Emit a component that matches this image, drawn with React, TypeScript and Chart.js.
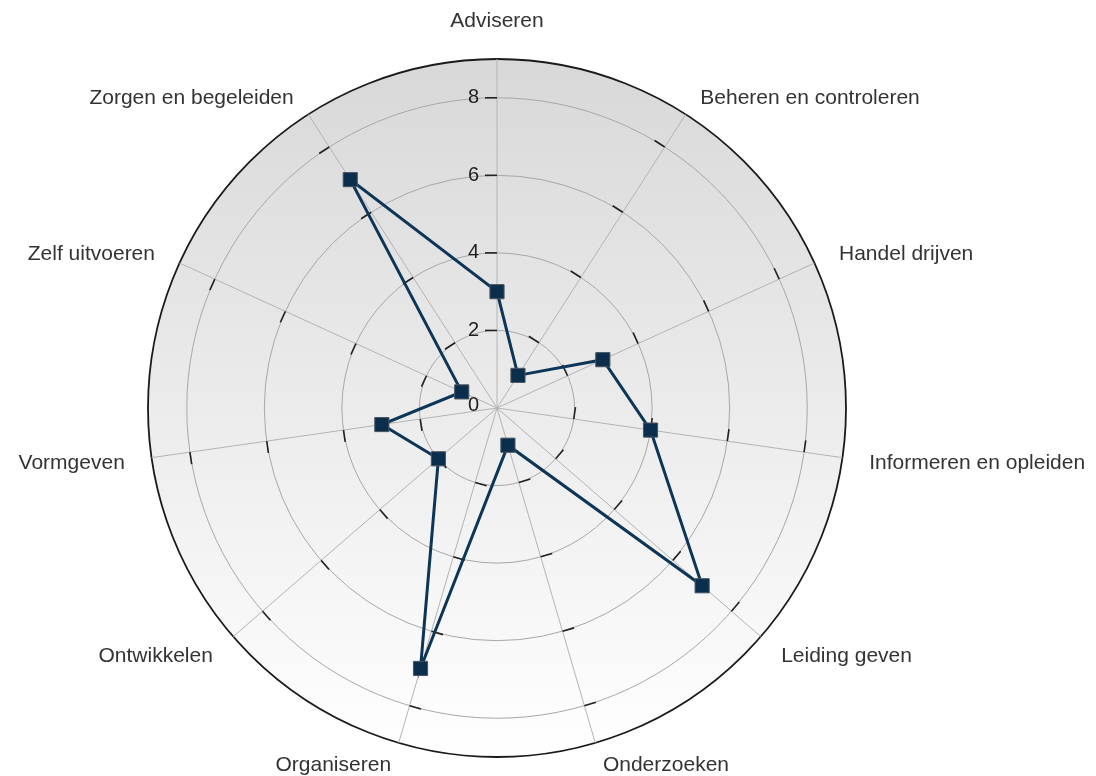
import React, { useEffect, useRef } from "react";
import { Chart, registerables } from "chart.js";

Chart.register(...registerables);

const categories = [
  "Adviseren",
  "Beheren en controleren",
  "Handel drijven",
  "Informeren en opleiden",
  "Leiding geven",
  "Onderzoeken",
  "Organiseren",
  "Ontwikkelen",
  "Vormgeven",
  "Zelf uitvoeren",
  "Zorgen en begeleiden",
];
const scores = [3, 1, 3, 4, 7, 1, 7, 2, 3, 1, 7];
const tickValues = [0, 2, 4, 6, 8];
const axisMax = 9;

const FONT = '"Liberation Sans", Arial, sans-serif';

const decorPlugin = {
  id: "decor",
  beforeDraw(chart: any) {
    const s = chart.scales.r;
    const ctx = chart.ctx;
    const R = s.drawingArea;
    ctx.save();
    const g = ctx.createLinearGradient(0, s.yCenter - R, 0, s.yCenter + R);
    g.addColorStop(0, "#d8d8d8");
    g.addColorStop(1, "#ffffff");
    ctx.beginPath();
    ctx.arc(s.xCenter, s.yCenter, R, 0, Math.PI * 2);
    ctx.fillStyle = g;
    ctx.fill();
    ctx.restore();
  },
  beforeDatasetsDraw(chart: any) {
    const s = chart.scales.r;
    const ctx = chart.ctx;
    const R = s.drawingArea;
    ctx.save();
    // small tick marks on every spoke
    ctx.strokeStyle = "#222";
    ctx.lineWidth = 1.6;
    for (let i = 0; i < categories.length; i++) {
      const a = s.getIndexAngle(i);
      for (const v of tickValues) {
        if (v === 0) continue;
        const p = s.getPointPosition(i, s.getDistanceFromCenterForValue(v));
        ctx.beginPath();
        ctx.moveTo(p.x, p.y);
        ctx.lineTo(p.x - 12 * Math.cos(a), p.y - 12 * Math.sin(a));
        ctx.stroke();
      }
    }
    // tick labels along the top spoke
    ctx.fillStyle = "#1e1e1e";
    ctx.font = `20px ${FONT}`;
    ctx.textAlign = "right";
    ctx.textBaseline = "middle";
    for (const v of tickValues) {
      const p = s.getPointPosition(0, s.getDistanceFromCenterForValue(v));
      ctx.fillText(String(v), p.x - 18, p.y - (v === 0 ? 3 : 0));
    }
    // category labels
    ctx.fillStyle = "#333";
    ctx.font = `21px ${FONT}`;
    for (let i = 0; i < categories.length; i++) {
      const rad = s.getIndexAngle(i);
      const a = (rad * 180) / Math.PI;
      const p = s.getPointPosition(i, R + 27);
      let align: CanvasTextAlign = "center";
      if (a > 1 && a < 179) align = "left";
      else if (a > 181 && a < 359) align = "right";
      ctx.textAlign = align;
      let y = p.y;
      const c = Math.cos(rad);
      if (a < 1 || a > 359) {
        ctx.textBaseline = "bottom";
      } else {
        ctx.textBaseline = "middle";
        if (c > 0.7) y += 7;
        else if (c < -0.9) y -= 4;
        else y += 2;
      }
      ctx.fillText(categories[i], p.x, y);
    }
    ctx.restore();
  },
};

export default function App() {
  const ref = useRef<HTMLCanvasElement | null>(null);
  useEffect(() => {
    if (!ref.current) return;
    const chart = new Chart(ref.current, {
      type: "radar",
      data: {
        labels: categories,
        datasets: [
          {
            data: scores,
            borderColor: "#0c3557",
            borderWidth: 3,
            pointStyle: "rect",
            pointRadius: 10,
            pointHoverRadius: 10,
            pointBackgroundColor: "#0b2e4d",
            pointBorderColor: "#4a5560",
            pointBorderWidth: 1,
            fill: false,
            tension: 0,
          },
        ],
      },
      options: {
        responsive: true,
        maintainAspectRatio: false,
        animation: false,
        layout: { padding: { left: 148, top: 59, right: 249, bottom: 18 } },
        plugins: { legend: { display: false }, tooltip: { enabled: false } },
        scales: {
          r: {
            min: 0,
            max: axisMax,
            ticks: { stepSize: 2, display: false },
            grid: {
              circular: true,
              color: (c: any) => (c.tick && c.tick.value === axisMax ? "#1a1a1a" : "#a8a8a8"),
              lineWidth: (c: any) => (c.tick && c.tick.value === axisMax ? 1.8 : 1),
            },
            angleLines: { color: "#b4b4b4", lineWidth: 1 },
            pointLabels: { display: false },
          },
        },
      },
      plugins: [decorPlugin],
    } as any);
    return () => chart.destroy();
  }, []);
  return (
    <div style={{ position: "absolute", left: 0, top: 0, width: 1096, height: 776 }}>
      <canvas ref={ref} />
    </div>
  );
}
